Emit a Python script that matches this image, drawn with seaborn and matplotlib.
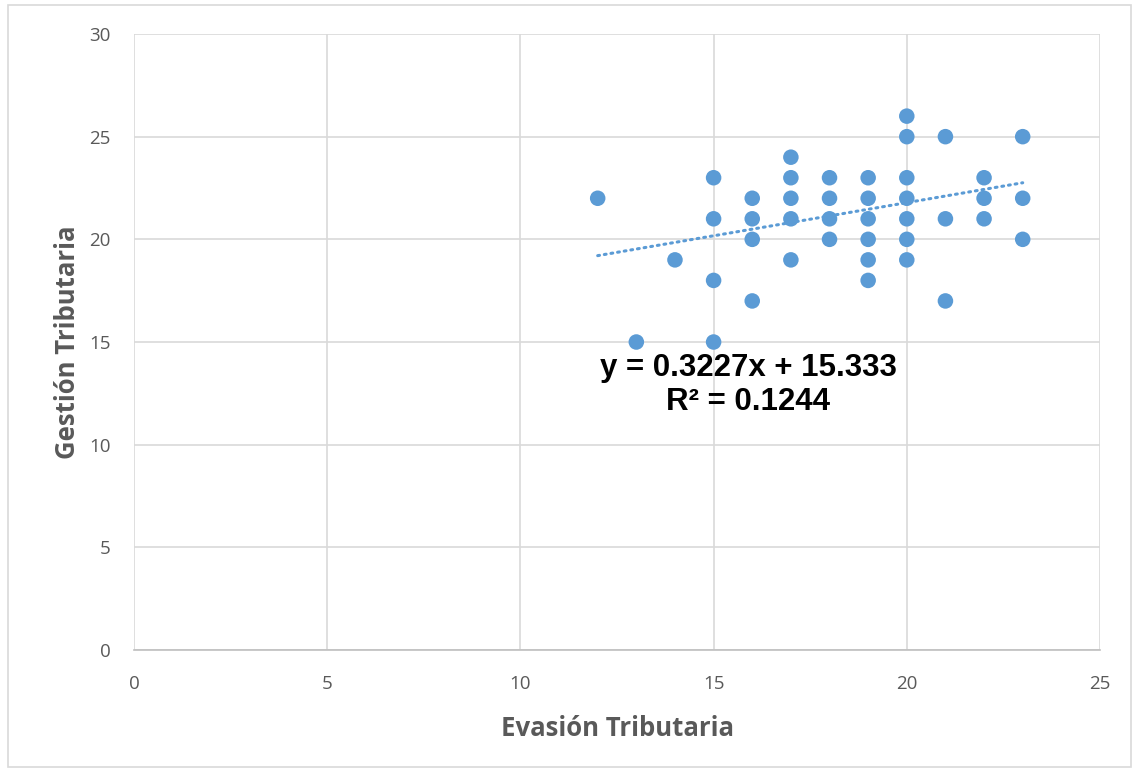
import numpy as np
import pandas as pd
import matplotlib
matplotlib.use("Agg")
import matplotlib.pyplot as plt
import seaborn as sns

evasion = [12, 13, 14,
           15, 15, 15, 15,
           16, 16, 16, 16,
           17, 17, 17, 17, 17,
           18, 18, 18, 18,
           19, 19, 19, 19, 19, 19,
           20, 20, 20, 20, 20, 20, 20,
           21, 21, 21,
           22, 22, 22,
           23, 23, 23]
gestion = [22, 15, 19,
           23, 21, 18, 15,
           22, 21, 20, 17,
           24, 23, 22, 21, 19,
           23, 22, 21, 20,
           23, 22, 21, 20, 19, 18,
           26, 25, 23, 22, 21, 20, 19,
           25, 21, 17,
           23, 22, 21,
           25, 22, 20]

slope = 0.3227
intercept = 15.333
r2 = 0.1244

df = pd.DataFrame({"Evasión Tributaria": evasion, "Gestión Tributaria": gestion})

sns.set_style("white")
plt.rcParams["font.family"] = ["Open Sans", "DejaVu Sans"]

fig = plt.figure(figsize=(11.34, 7.69), dpi=100)
ax = fig.add_axes([0.1182, 0.1547, 0.8518, 0.8011])

blue = "#5B9BD5"
sns.scatterplot(data=df, x="Evasión Tributaria", y="Gestión Tributaria", ax=ax,
                color=blue, s=125, edgecolor="none", zorder=3)

# linear trendline over the data range
xs = np.array([min(evasion), max(evasion)])
ax.plot(xs, slope * xs + intercept, color=blue, lw=2.2, ls=(0, (0.6, 1.6)),
        dash_capstyle="round", zorder=2)

ax.set_xlim(0, 25)
ax.set_ylim(0, 30)
ax.set_xticks(range(0, 26, 5))
ax.set_yticks(range(0, 31, 5))
ax.grid(True, color="#D9D9D9", lw=1.2)
ax.set_axisbelow(True)
for side in ["top", "right", "left"]:
    ax.spines[side].set_visible(False)
ax.spines["bottom"].set_color("#BFBFBF")
ax.spines["bottom"].set_linewidth(1.2)
ax.tick_params(axis="both", length=0, labelsize=13.5, colors="#595959")
ax.tick_params(axis="x", pad=18)
ax.tick_params(axis="y", pad=17)

ax.set_xlabel("Evasión Tributaria", fontsize=18.5, fontweight="bold", color="#595959", labelpad=16)
ax.set_ylabel("Gestión Tributaria", fontsize=18.5, fontweight="bold", color="#595959", labelpad=6)

ax.text(15.9, 12.9, f"y = {slope}x + {intercept}\nR² = {r2}", ha="center", va="center",
        fontsize=22.5, fontweight="bold", color="black", family=["Liberation Sans", "DejaVu Sans"],
        linespacing=1.2)

# outer chart border
fig.patches.append(plt.Rectangle((0.007, 0.003), 0.99, 0.99, transform=fig.transFigure,
                                 fill=False, edgecolor="#D9D9D9", lw=1.2))

fig.savefig("out.png", dpi=100)
